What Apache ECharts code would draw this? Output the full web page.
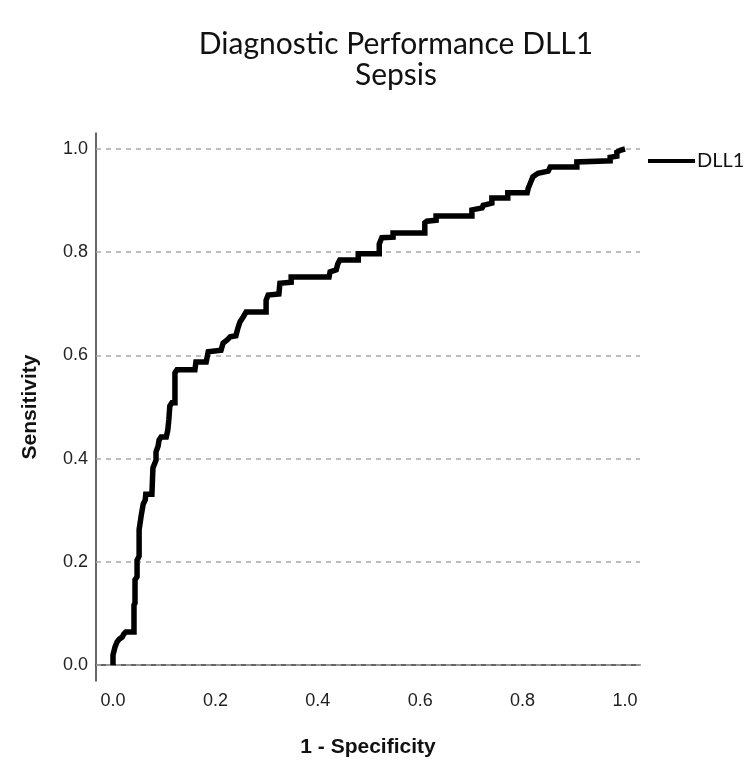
<!DOCTYPE html>
<html>
<head>
<meta charset="utf-8">
<script src="https://cdn.jsdelivr.net/npm/echarts@6/dist/echarts.min.js"></script>
<style>html,body{margin:0;padding:0;background:#fff;}#c{width:756px;height:764px;}</style>
</head>
<body>
<div id="c"></div>
<script>
const titleText = 'Diagnostic Performance DLL1\nSepsis';
const seriesName = 'DLL1';
const xAxisName = '1 - Specificity';
const yAxisName = 'Sensitivity';
const tickValues = [0, 0.2, 0.4, 0.6, 0.8, 1.0];
// 1 - Specificity
const fpr = [0,0,0.004,0.008,0.012,0.018,0.021,0.025,0.041,0.041,0.043,0.043,0.047,0.047,0.051,0.051,0.055,0.059,0.063,0.064,0.076,0.078,0.084,0.084,0.088,0.090,0.094,0.104,0.107,0.109,0.111,0.115,0.121,0.121,0.125,0.160,0.162,0.182,0.186,0.211,0.215,0.223,0.229,0.240,0.244,0.248,0.254,0.260,0.299,0.299,0.303,0.324,0.326,0.348,0.348,0.422,0.424,0.436,0.439,0.443,0.479,0.479,0.520,0.520,0.525,0.547,0.547,0.609,0.609,0.613,0.631,0.631,0.701,0.701,0.721,0.723,0.740,0.740,0.771,0.771,0.809,0.811,0.816,0.820,0.830,0.850,0.854,0.906,0.906,0.971,0.971,0.984,0.984,0.992,1.0];
// Sensitivity
const tpr = [0,0.019,0.035,0.045,0.050,0.054,0.060,0.064,0.064,0.116,0.120,0.165,0.171,0.203,0.211,0.262,0.289,0.312,0.320,0.331,0.331,0.382,0.397,0.413,0.424,0.436,0.442,0.442,0.455,0.475,0.502,0.508,0.508,0.566,0.572,0.572,0.587,0.587,0.607,0.610,0.624,0.630,0.636,0.638,0.653,0.665,0.674,0.684,0.684,0.707,0.717,0.719,0.740,0.742,0.752,0.752,0.762,0.766,0.777,0.785,0.785,0.797,0.797,0.816,0.828,0.829,0.837,0.837,0.857,0.860,0.862,0.870,0.870,0.882,0.886,0.891,0.895,0.905,0.905,0.915,0.915,0.924,0.936,0.946,0.953,0.957,0.965,0.965,0.975,0.977,0.984,0.986,0.994,0.998,1.0];

const chart = echarts.init(document.getElementById('c'), null, {renderer: 'canvas'});
const labelFmt = v => v.toFixed(1);
chart.setOption({
  backgroundColor: '#ffffff',
  animation: false,
  title: {
    text: titleText,
    left: 391,
    top: 24,
    textAlign: 'center',
    textStyle: {fontFamily: 'Lato', fontSize: 30, fontWeight: 'normal', color: '#111', lineHeight: 31}
  },
  legend: {
    data: [seriesName],
    left: 643,
    top: 146,
    icon: 'rect',
    itemWidth: 47,
    itemHeight: 4,
    itemGap: 5,
    textStyle: {fontFamily: 'Lato', fontSize: 20, color: '#111', padding: [0,0,0,-3]}
  },
  grid: {left: 96, right: 116, top: 133, bottom: 83, containLabel: false},
  xAxis: {
    type: 'value',
    min: -0.0332,
    max: 1.0293,
    name: xAxisName,
    nameLocation: 'middle',
    nameGap: 56,
    nameTextStyle: {fontFamily: 'Liberation Sans', fontSize: 21, fontWeight: 'bold', color: '#111'},
    axisLine: {show: true, lineStyle: {color: '#333', width: 1.5}},
    axisTick: {show: false, customValues: tickValues},
    splitLine: {show: false},
    axisLabel: {customValues: tickValues, formatter: labelFmt, margin: 11, fontFamily: 'Liberation Sans', fontSize: 18, color: '#222'}
  },
  yAxis: {
    type: 'value',
    min: -0.031,
    max: 1.031,
    name: yAxisName,
    nameLocation: 'middle',
    nameGap: 55,
    nameRotate: 90,
    nameTextStyle: {fontFamily: 'Liberation Sans', fontSize: 21, fontWeight: 'bold', color: '#111'},
    axisLine: {show: true, onZero: false, lineStyle: {color: '#333', width: 1.5}},
    axisTick: {show: false, customValues: tickValues},
    splitLine: {show: false},
    axisLabel: {customValues: tickValues, formatter: labelFmt, margin: 8, fontFamily: 'Liberation Sans', fontSize: 18, color: '#222'}
  },
  series: [{
    name: seriesName,
    type: 'line',
    data: fpr.map((x, i) => [x, tpr[i]]),
    showSymbol: false,
    symbol: 'none',
    lineStyle: {color: '#000', width: 5.5, join: 'miter'},
    itemStyle: {color: '#000'},
    z: 3,
    markLine: {
      silent: true,
      symbol: ['none', 'none'],
      label: {show: false},
      lineStyle: {color: '#a8a8a8', type: [5, 5], width: 1.5},
      data: tickValues.map(v => ({yAxis: v})),
      z: 1
    }
  }]
});
</script>
</body>
</html>
